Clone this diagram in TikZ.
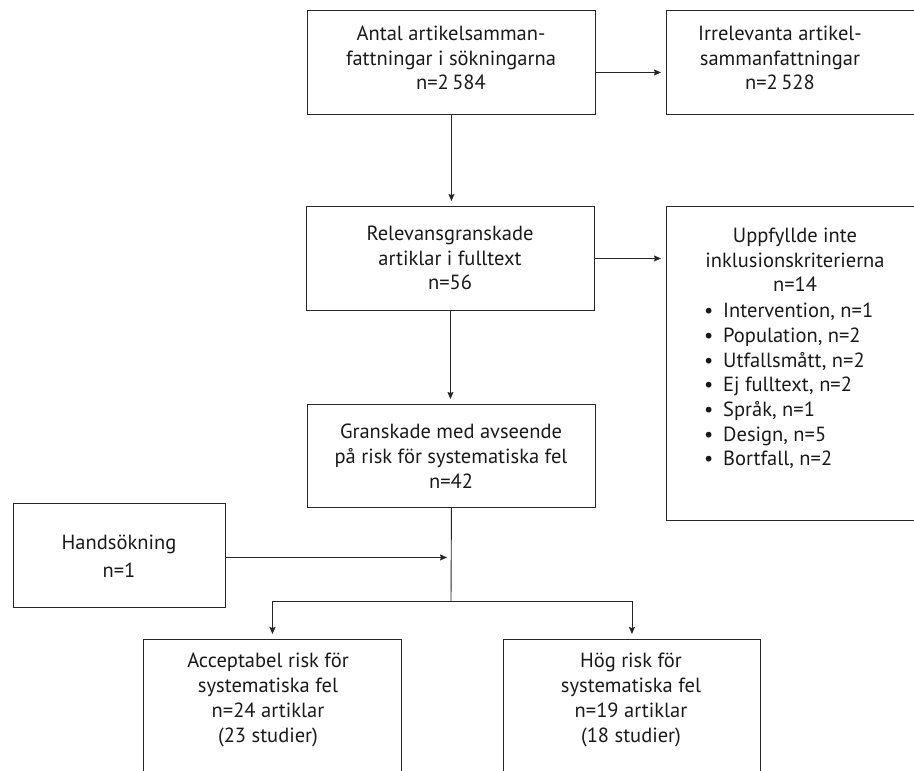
\documentclass[tikz,border=0pt]{standalone}
\usepackage{fontspec}
\setmainfont{PT Sans}
\usetikzlibrary{arrows.meta,calc}
\begin{document}
\begin{tikzpicture}[x=1pt,y=-1pt,
  box/.style={draw=black!85, line width=0.9pt, rectangle, inner sep=0pt, anchor=north west},
  txt/.style={align=center, font=\fontsize{20.5}{24.7}\selectfont, inner sep=0pt, text=black!90},
  conn/.style={draw=black!85, line width=0.9pt, -{Stealth[length=7pt,width=6pt,inset=1pt]}, shorten >=5pt},
  plain/.style={draw=black!85, line width=0.9pt}]
\useasboundingbox (0,0) rectangle (914,771);
\clip (0,0) rectangle (914,771);

% boxes
\node[box, minimum width=288pt, minimum height=104pt] (b1) at (307,10) {};
\node[box, minimum width=280pt, minimum height=104pt] (b2) at (666,10) {};
\node[box, minimum width=288pt, minimum height=104pt] (b3) at (306,206) {};
\node[box, minimum width=280pt, minimum height=314pt] (b4) at (666,206) {};
\node[box, minimum width=288pt, minimum height=103pt] (b5) at (307,404) {};
\node[box, minimum width=212pt, minimum height=104pt] (hand) at (13,503) {};
\node[box, minimum width=258pt, minimum height=160pt] (b6) at (143,639) {};
\node[box, minimum width=257pt, minimum height=160pt] (b7) at (503,639) {};

% texts
\node[txt] (t1) at (451,58) {Antal artikelsamman-\\fattningar i sökningarna\\n=2\,584};
\node[txt] (t2) at (780,58) {Irrelevanta artikel-\\sammanfattningar\\n=2\,528};
\node[txt] (t3) at (450,258) {Relevansgranskade\\artiklar i fulltext\\n=56};
\node[txt] (t4) at (795,260) {Uppfyllde inte\\inklusionskriterierna\\n=14};
\node[txt, align=left, anchor=north west] (l4) at (704,303) {%
\makebox[19pt][l]{•}Intervention, n=1\\
\makebox[19pt][l]{•}Population, n=2\\
\makebox[19pt][l]{•}Utfallsmått, n=2\\
\makebox[19pt][l]{•}Ej fulltext, n=2\\
\makebox[19pt][l]{•}Språk, n=1\\
\makebox[19pt][l]{•}Design, n=5\\
\makebox[19pt][l]{•}Bortfall, n=2};
\node[txt] (t5) at (451,456) {Granskade med avseende\\på risk för systematiska fel\\n=42};
\node[txt] (th) at (119,556) {Handsökning\\[3pt]n=1};
\node[txt] (t6) at (268,700) {Acceptabel risk för\\systematiska fel\\n=24 artiklar\\(23 studier)};
\node[txt] (t7) at (631,700) {Hög risk för\\systematiska fel\\n=19 artiklar\\(18 studier)};

% connectors
\draw[conn] ($(b1.east)+(0,10)$) -- ($(b2.west)+(0,10)$);
\draw[conn] (b1.south) -- (b1.south |- b3.north);
\draw[conn] (b3.east) -- (b4.west |- b3.east);
\draw[conn] (b3.south) -- (b3.south |- b5.north);
\coordinate (j) at (451,601);
\coordinate (jl) at (b6.north |- j);
\coordinate (jr) at (b7.north |- j);
\draw[plain] (b5.south) -- (j);
\draw[plain] (jl) -- (jr);
\draw[conn] (jl) -- (b6.north);
\draw[conn] (jr) -- (b7.north);
\draw[conn, shorten >=4pt] ($(hand.east)+(0,2)$) -- ($(hand.east -| j)+(0,2)$);
\end{tikzpicture}
\end{document}
